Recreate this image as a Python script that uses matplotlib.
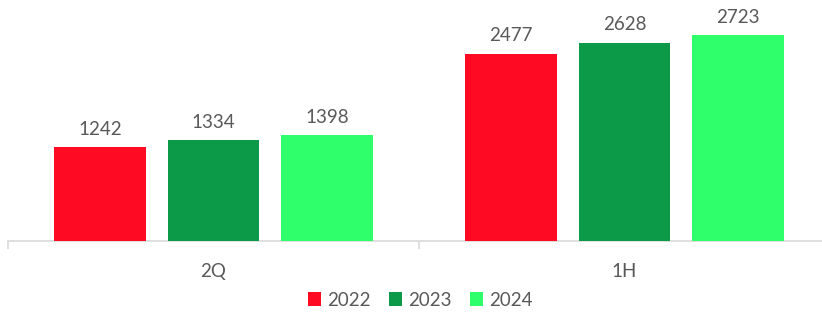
import matplotlib
matplotlib.use("Agg")
import matplotlib.pyplot as plt
import numpy as np

categories = ["2Q", "1H"]
series_names = ["2022", "2023", "2024"]
values_2022 = [1242, 2477]
values_2023 = [1334, 2628]
values_2024 = [1398, 2723]
colors = ["#FF0A23", "#0C9A48", "#2EFF6A"]

plt.rcParams['font.family'] = ['Lato', 'DejaVu Sans']
W, H = 822, 314
fig = plt.figure(figsize=(W/100, H/100), dpi=100)
left = 8 / W
right = 830 / W
bottom = (H - 241) / H
ax = fig.add_axes([left, bottom, right - left, 1 - bottom])

x = np.arange(len(categories))
bw = 0.222
step = 0.276
txt_col = "#595959"
all_vals = [values_2022, values_2023, values_2024]
for i, (name, vals, c) in enumerate(zip(series_names, all_vals, colors)):
    pos = x + (i - 1) * step
    bars = ax.bar(pos, vals, width=bw, color=c, label=name, zorder=3)
    for b, v in zip(bars, vals):
        ax.annotate(f"{v}", (b.get_x() + b.get_width()/2, v), xytext=(0, 7),
                    textcoords="offset points", ha="center", va="bottom",
                    fontsize=13.5, color=txt_col)

ax.set_xlim(-0.5, 1.5)
ax.set_ylim(0, 3192)
for s in ["top", "right", "left"]:
    ax.spines[s].set_visible(False)
ax.spines["bottom"].set_color("#D9D9D9")
ax.spines["bottom"].set_linewidth(1.2)
ax.set_yticks([])
ax.set_xticks([-0.5, 0.5, 1.5], minor=False)
ax.set_xticklabels([])
ax.tick_params(axis="x", which="major", length=6, color="#D9D9D9", width=1.2)
ax.set_xticks(x, minor=True)
ax.set_xticklabels(categories, minor=True)
ax.tick_params(axis="x", which="minor", length=0, pad=16, labelsize=13.5, labelcolor=txt_col)

leg = fig.legend(loc="center", bbox_to_anchor=(420/W, 1 - 300/H), ncol=3, frameon=False,
                 fontsize=13.5, handlelength=0.7, handleheight=0.7, handletextpad=0.3,
                 columnspacing=1.0, labelcolor=txt_col, borderaxespad=0.0)

fig.savefig("out.png", dpi=100)
